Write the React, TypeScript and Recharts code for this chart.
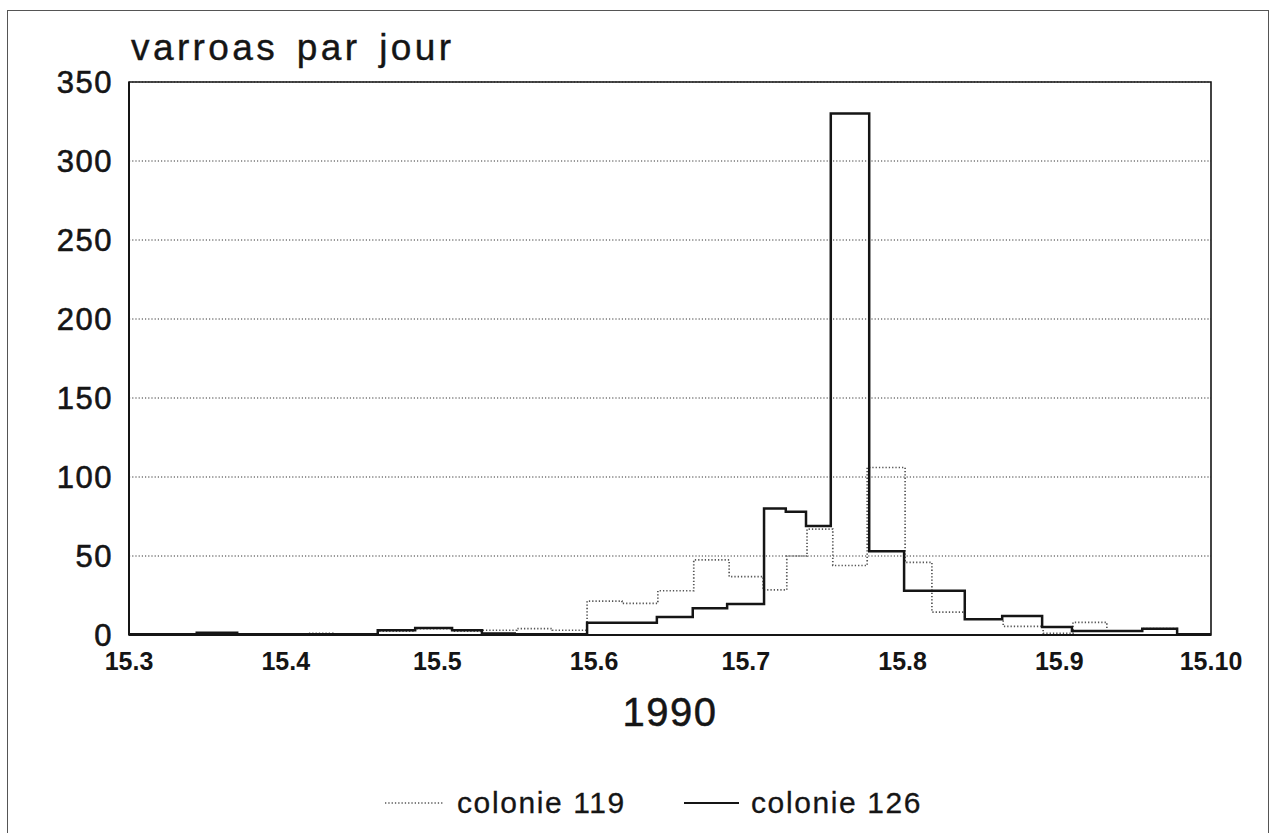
import React from "react";
import { LineChart, Line, XAxis, YAxis, CartesianGrid, ReferenceArea } from "recharts";

// x = days since 15 March 1990
const tickDays = [0, 31, 61, 92, 122, 153, 184, 214];
const tickLabels = ["15.3", "15.4", "15.5", "15.6", "15.7", "15.8", "15.9", "15.10"];
const yTicks = [0, 50, 100, 150, 200, 250, 300, 350];

const days119 = [0, 35.2, 40.3, 49.2, 56.6, 63.9, 69.8, 76.7, 83.7, 90.6, 97.5, 104.6, 111.7, 118.7, 125.4, 130.1, 134.1, 139.2, 146, 153.5, 158.8, 165.3, 172.9, 180.8, 186.7, 193.4, 200.4, 207.3, 214];
const values119 = [0, 1, 0, 2.5, 4, 2.5, 3, 4, 3, 21.5, 20, 28, 47.5, 37, 28.5, 50, 67, 44, 106, 46, 14.5, 10, 5.5, 1, 8, 2.5, 4, 0.5, 0.5];

const days126 = [0, 13.4, 21.4, 49.2, 56.6, 63.9, 69.8, 76.3, 90.6, 104.4, 111.5, 118.3, 125.6, 129.9, 133.9, 138.8, 146.4, 153.3, 165.3, 172.7, 180.6, 186.5, 200.4, 207.3, 214];
const values126 = [0.5, 1.5, 0.5, 3, 4.5, 3, 1, 0.5, 7.7, 11.4, 17, 19.6, 80, 78, 69, 330, 53, 28, 10, 12, 5, 2.5, 4, 0.5, 0.5];

const seriesNames = ["colonie 119", "colonie 126"];
const titleText = "varroas par jour";
const xAxisTitle = "1990";

const data119 = days119.map((d, i) => ({ d, v: values119[i] }));
const data126 = days126.map((d, i) => ({ d, v: values126[i] }));

const FONT = "'Liberation Sans', Arial, Helvetica, sans-serif";
const INK = "#151515";

export default function App() {
  const legendText: React.CSSProperties = {
    position: "absolute",
    top: 783,
    fontFamily: FONT,
    fontSize: 30,
    letterSpacing: 1.6,
    color: INK,
    lineHeight: "40px",
    WebkitTextStroke: "0.3px #151515",
    whiteSpace: "nowrap",
  };
  return (
    <div style={{ position: "absolute", left: 0, top: 0, width: 1272, height: 833, background: "#fff", overflow: "hidden" }}>
      <div style={{ position: "absolute", left: 7, top: 10, width: 1262, height: 840, border: "1.5px solid #555", boxSizing: "border-box" }} />
      <div
        style={{
          position: "absolute",
          left: 131,
          top: 26,
          fontFamily: FONT,
          fontSize: 37,
          letterSpacing: 3.4,
          wordSpacing: 5,
          color: INK,
          lineHeight: "44px",
          WebkitTextStroke: "0.4px #151515",
          whiteSpace: "pre",
        }}
      >
        {titleText}
      </div>
      <div style={{ position: "absolute", left: 0, top: 0 }}>
        <LineChart width={1272} height={833} margin={{ top: 82, left: 69, right: 61, bottom: 138 }}>
          <CartesianGrid horizontal={true} vertical={false} stroke="#333" strokeDasharray="1.2 2" strokeWidth={1} />
          <XAxis
            type="number"
            dataKey="d"
            domain={[0, 214]}
            ticks={tickDays}
            tickFormatter={(v) => tickLabels[tickDays.indexOf(v)] ?? ""}
            allowDuplicatedCategory={false}
            height={60}
            tickSize={0}
            tickMargin={17}
            axisLine={{ stroke: INK, strokeWidth: 2 }}
            tick={{ fontFamily: FONT, fontSize: 25, fontWeight: "bold", fill: INK }}
            label={{ value: xAxisTitle, position: "bottom", offset: 3, style: { fontFamily: FONT, fontSize: 40, fill: INK, letterSpacing: 1.5, stroke: INK, strokeWidth: 0.5 } }}
          />
          <YAxis
            type="number"
            domain={[0, 350]}
            ticks={yTicks}
            width={60}
            tickSize={0}
            tickMargin={16}
            axisLine={{ stroke: INK, strokeWidth: 2 }}
            tick={{ fontFamily: FONT, fontSize: 31, fill: INK, letterSpacing: 1.5, stroke: INK, strokeWidth: 0.6 }}
          />
          <ReferenceArea x1={0} x2={214} y1={0} y2={350} fill="none" stroke={INK} strokeWidth={1.6} />
          <Line data={data119} dataKey="v" name={seriesNames[0]} type="stepAfter" stroke="#555" strokeWidth={1.7} strokeDasharray="1.3 2" dot={false} isAnimationActive={false} />
          <Line data={data126} dataKey="v" name={seriesNames[1]} type="stepAfter" stroke={INK} strokeWidth={2.5} dot={false} isAnimationActive={false} />
        </LineChart>
      </div>
      <svg style={{ position: "absolute", left: 385, top: 798 }} width={58} height={10}>
        <line x1={0} y1={5} x2={58} y2={5} stroke="#555" strokeWidth={1.6} strokeDasharray="1.3 2" />
      </svg>
      <div style={{ ...legendText, left: 457 }}>{seriesNames[0]}</div>
      <svg style={{ position: "absolute", left: 684, top: 798 }} width={55} height={10}>
        <line x1={0} y1={5} x2={55} y2={5} stroke={INK} strokeWidth={2} />
      </svg>
      <div style={{ ...legendText, left: 751 }}>{seriesNames[1]}</div>
    </div>
  );
}
